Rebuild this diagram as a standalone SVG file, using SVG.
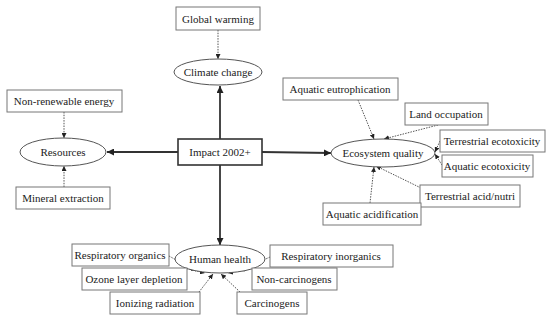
<svg xmlns="http://www.w3.org/2000/svg" width="550" height="320" viewBox="0 0 550 320">
<style>
text{font-family:"Liberation Serif","DejaVu Serif","Noto Serif",Times,serif;font-size:11px;fill:#222;text-anchor:middle;dominant-baseline:central}
.box{fill:#fff;stroke:#777;stroke-width:1}
.ell{fill:#fff;stroke:#555;stroke-width:1}
.main{fill:#fff;stroke:#333;stroke-width:1.6}
.dot{stroke:#555;stroke-width:1;stroke-dasharray:1.5 1.2;fill:none}
.thick{stroke:#333;stroke-width:1.8;fill:none}
</style>
<defs>
<marker id="a" viewBox="0 0 10 10" refX="10" refY="5" markerWidth="5" markerHeight="5" orient="auto" markerUnits="userSpaceOnUse"><path d="M0,0L10,5L0,10z" fill="#222"/></marker>
<marker id="b" viewBox="0 0 10 10" refX="10" refY="5" markerWidth="7" markerHeight="7" orient="auto" markerUnits="userSpaceOnUse"><path d="M0,0L10,5L0,10z" fill="#222"/></marker>
</defs>
<rect width="550" height="320" fill="#fff"/>
<g id="connectors">
<line class="thick" x1="220" y1="139" x2="220" y2="86" marker-end="url(#b)"/>
<line class="thick" x1="178" y1="152" x2="107" y2="152" marker-end="url(#b)"/>
<line class="thick" x1="262" y1="152" x2="331" y2="153" marker-end="url(#b)"/>
<line class="thick" x1="220" y1="165" x2="220" y2="245" marker-end="url(#b)"/>
<line class="dot" x1="218" y1="30" x2="218" y2="59" marker-end="url(#a)"/>
<line class="dot" x1="64" y1="112" x2="64" y2="138" marker-end="url(#a)"/>
<line class="dot" x1="64" y1="187" x2="64" y2="166" marker-end="url(#a)"/>
<line class="dot" x1="358" y1="100" x2="374" y2="139" marker-end="url(#a)"/>
<line class="dot" x1="438" y1="125" x2="384" y2="139" marker-end="url(#a)"/>
<line class="dot" x1="440" y1="141" x2="435" y2="152" marker-end="url(#a)"/>
<line class="dot" x1="442" y1="165" x2="435" y2="154" marker-end="url(#a)"/>
<line class="dot" x1="421" y1="188" x2="376" y2="166" marker-end="url(#a)"/>
<line class="dot" x1="370" y1="203" x2="374" y2="167" marker-end="url(#a)"/>
<line class="dot" x1="169" y1="256" x2="196" y2="271" marker-end="url(#a)"/>
<line class="dot" x1="184" y1="268" x2="205" y2="273" marker-end="url(#a)"/>
<line class="dot" x1="199" y1="292" x2="213" y2="274" marker-end="url(#a)"/>
<line class="dot" x1="240" y1="292" x2="221" y2="274" marker-end="url(#a)"/>
<line class="dot" x1="255" y1="268" x2="228" y2="273" marker-end="url(#a)"/>
<line class="dot" x1="270" y1="257" x2="240" y2="271" marker-end="url(#a)"/>
</g>
<g id="impact"><rect class="main" x="178" y="139" width="84" height="26"/><text x="220" y="152">Impact 2002+</text></g>
<g id="climate"><ellipse class="ell" cx="218" cy="72" rx="44" ry="13"/><text x="218" y="72">Climate change</text></g>
<g id="resources"><ellipse class="ell" cx="63" cy="152" rx="43" ry="14"/><text x="63" y="152">Resources</text></g>
<g id="ecosystem"><ellipse class="ell" cx="383" cy="153" rx="52" ry="14"/><text x="383" y="153">Ecosystem quality</text></g>
<g id="human"><ellipse class="ell" cx="220" cy="259" rx="45" ry="14"/><text x="220" y="259">Human health</text></g>
<g id="global"><rect class="box" x="176" y="7" width="84" height="23"/><text x="218" y="18.5">Global warming</text></g>
<g id="nonrenew"><rect class="box" x="7" y="90" width="115" height="22"/><text x="64" y="101">Non-renewable energy</text></g>
<g id="mineral"><rect class="box" x="16" y="187" width="94" height="22"/><text x="63" y="198">Mineral extraction</text></g>
<g id="eutro"><rect class="box" x="283" y="78" width="115" height="22"/><text x="340" y="89">Aquatic eutrophication</text></g>
<g id="land"><rect class="box" x="405" y="103" width="83" height="22"/><text x="446" y="114">Land occupation</text></g>
<g id="terreco"><rect class="box" x="440" y="130" width="105" height="22"/><text x="492" y="141">Terrestrial ecotoxicity</text></g>
<g id="aqeco"><rect class="box" x="442" y="155" width="91" height="22"/><text x="487" y="166">Aquatic ecotoxicity</text></g>
<g id="terracid"><rect class="box" x="420" y="185" width="100" height="22"/><text x="470" y="196">Terrestrial acid/nutri</text></g>
<g id="aqacid"><rect class="box" x="323" y="203" width="98" height="22"/><text x="372" y="214">Aquatic acidification</text></g>
<g id="resporg"><rect class="box" x="72" y="244" width="97" height="22"/><text x="120" y="255">Respiratory organics</text></g>
<g id="ozone"><rect class="box" x="82" y="268" width="105" height="22"/><text x="134" y="279">Ozone layer depletion</text></g>
<g id="ionizing"><rect class="box" x="110" y="292" width="90" height="22"/><text x="155" y="303">Ionizing radiation</text></g>
<g id="carcin"><rect class="box" x="237" y="292" width="70" height="22"/><text x="272" y="303">Carcinogens</text></g>
<g id="noncarcin"><rect class="box" x="252" y="268" width="85" height="22"/><text x="294" y="279">Non-carcinogens</text></g>
<g id="respinorg"><rect class="box" x="270" y="245" width="123" height="22"/><text x="331" y="256">Respiratory inorganics</text></g>
</svg>
